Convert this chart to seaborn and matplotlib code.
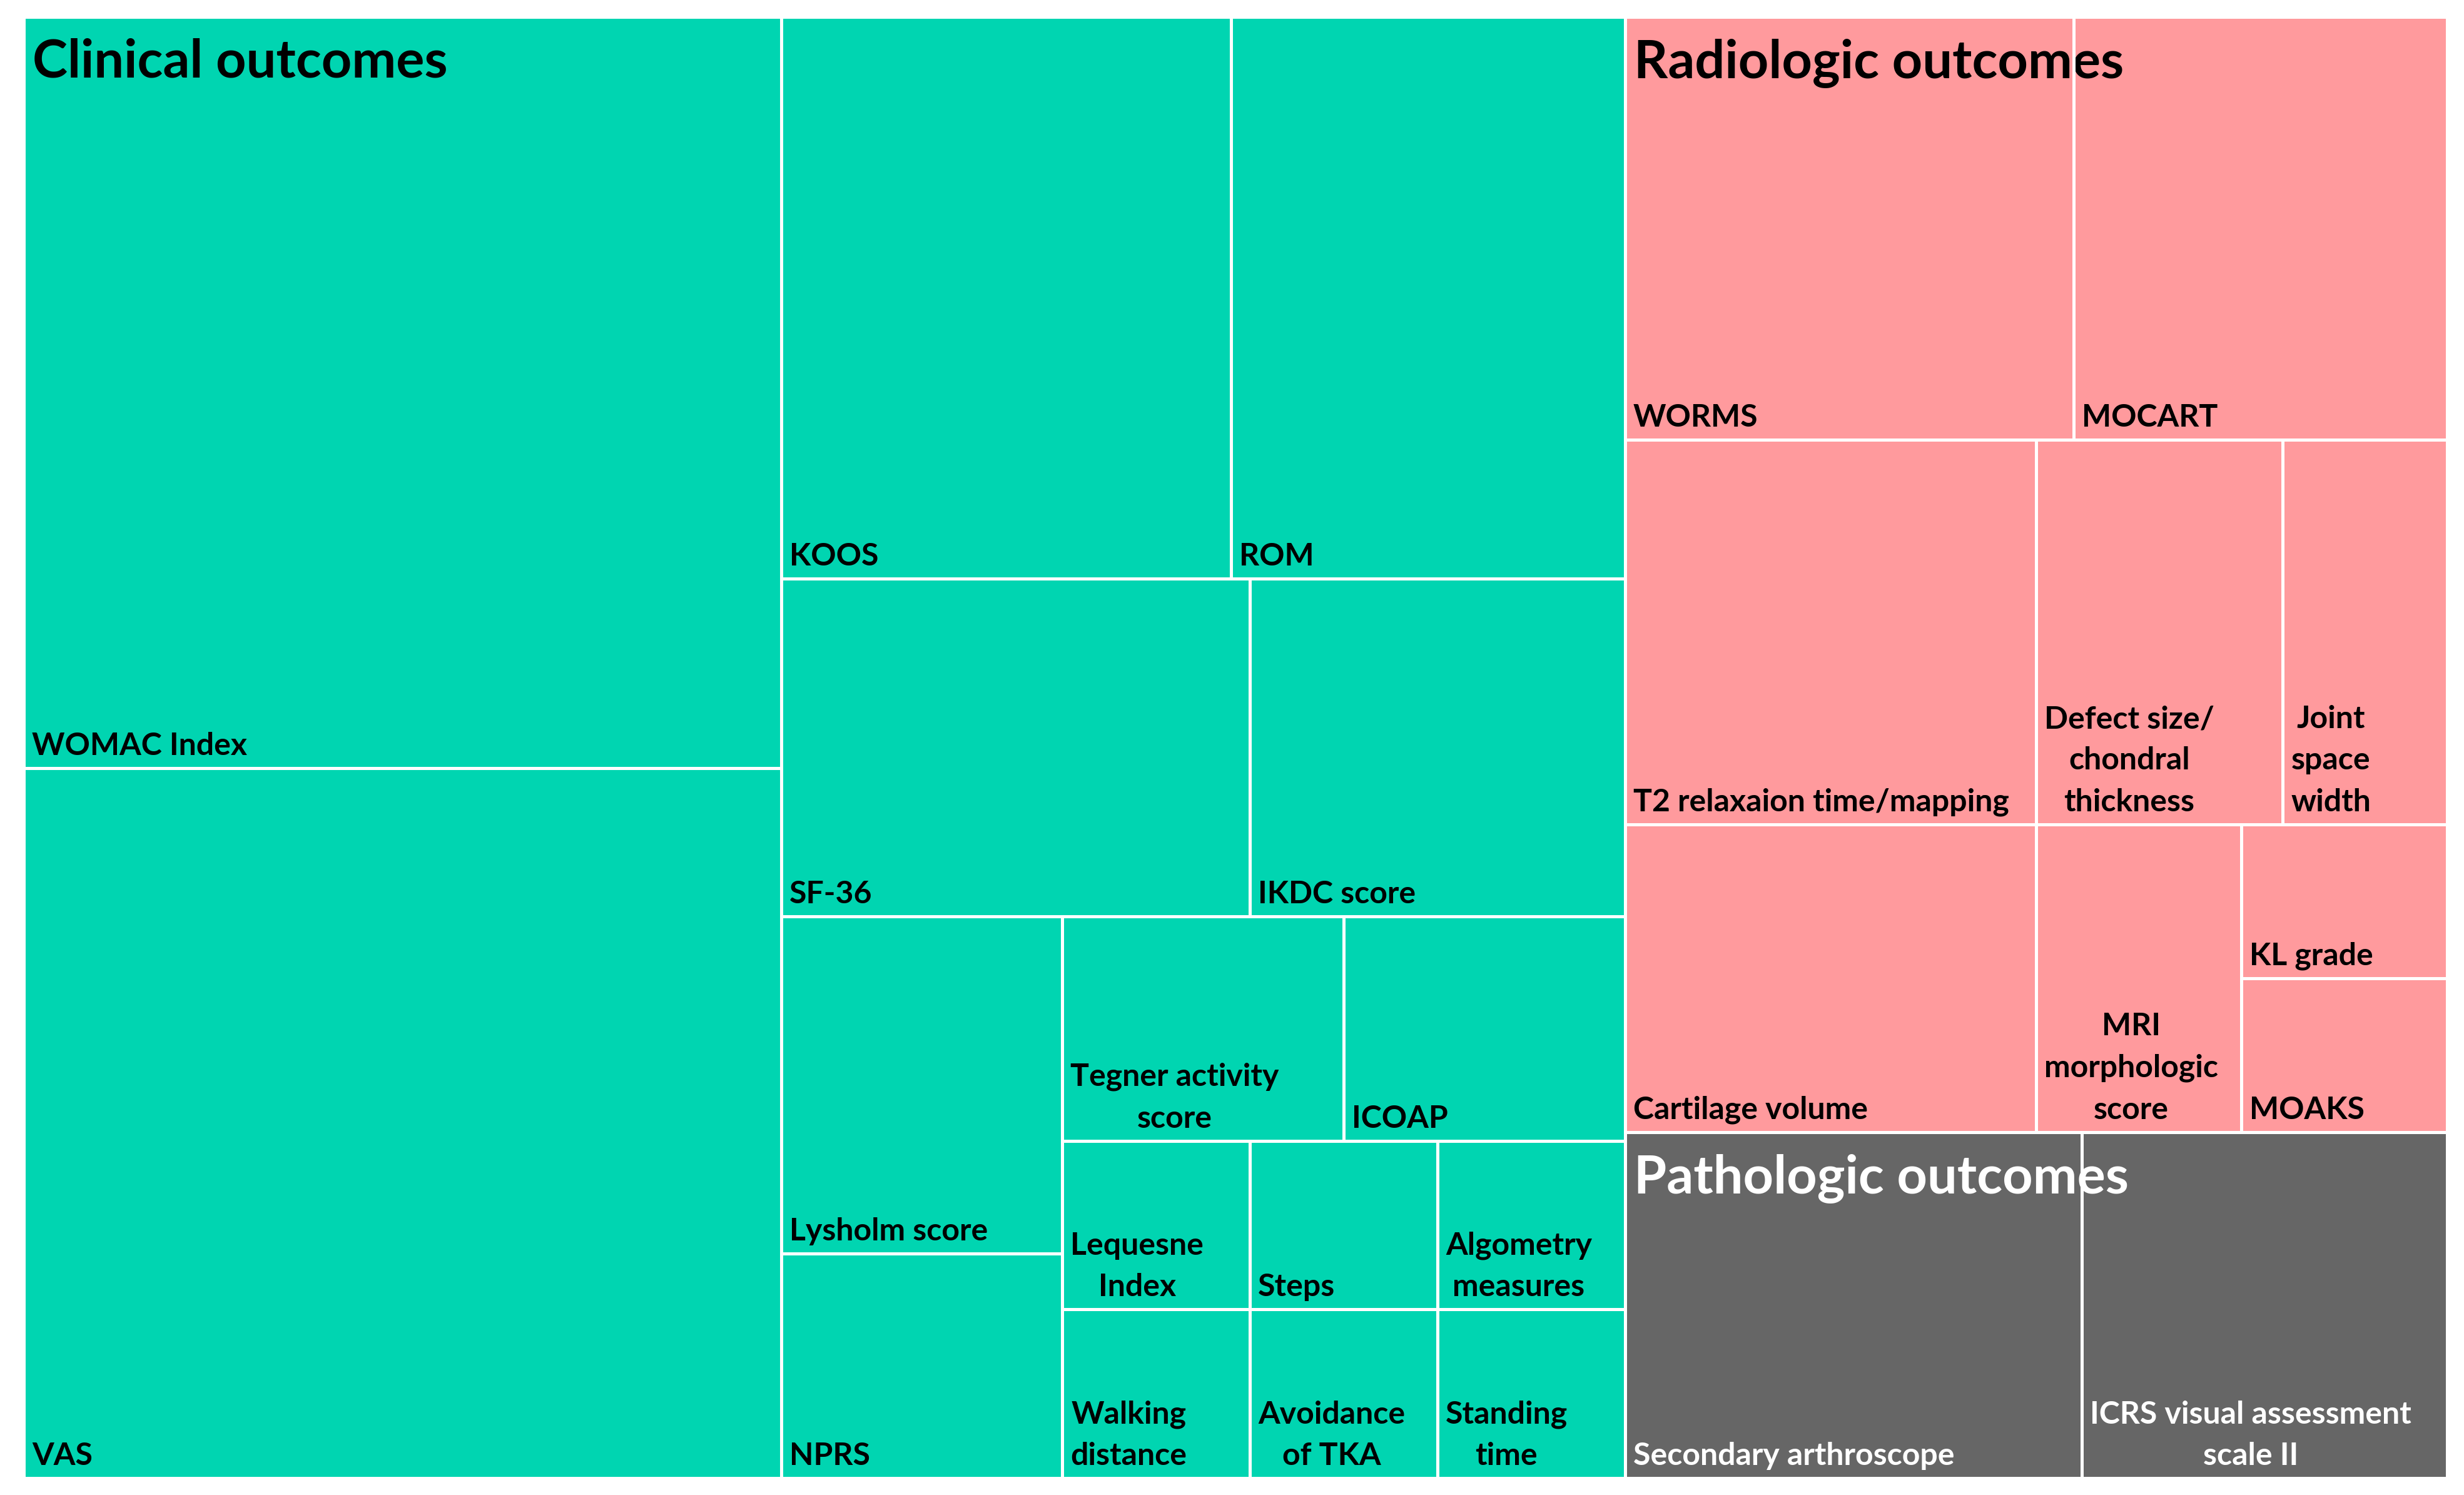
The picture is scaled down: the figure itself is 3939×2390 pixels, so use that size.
import matplotlib
matplotlib.use("Agg")
import matplotlib.pyplot as plt
from matplotlib.patches import Rectangle
import seaborn as sns

# number of studies reporting each outcome measure
group_names = ["Clinical outcomes", "Radiologic outcomes", "Pathologic outcomes"]

clinical_labels = ["WOMAC Index", "VAS", "KOOS", "ROM", "SF-36", "IKDC score",
                   "Lysholm score", "NPRS", "Tegner activity\nscore", "ICOAP",
                   "Lequesne\nIndex", "Walking\ndistance", "Steps", "Avoidance\nof TKA",
                   "Algometry\nmeasures", "Standing\ntime"]
clinical_counts = [18, 17, 8, 7, 5, 4, 3, 2, 2, 2, 1, 1, 1, 1, 1, 1]

radiologic_labels = ["WORMS", "MOCART", "T2 relaxaion time/mapping", "Cartilage volume",
                     "Defect size/\nchondral\nthickness", "Joint\nspace\nwidth",
                     "MRI\nmorphologic\nscore", "KL grade", "MOAKS"]
radiologic_counts = [6, 5, 5, 4, 3, 2, 2, 1, 1]

pathologic_labels = ["Secondary arthroscope", "ICRS visual assessment\nscale II"]
pathologic_counts = [5, 4]

group_colors = ["#00D5B1", "#FF9A9D", "#666666"]
text_colors = ["black", "black", "white"]


def squarify(values, x0, y0, x1, y1, ratio=1.2):
    # squarified treemap (d3 style), y axis points down
    rects = []
    total = float(sum(values))
    i0, n = 0, len(values)
    while i0 < n:
        dx, dy = x1 - x0, y1 - y0
        s = values[i0]
        vmin = vmax = s
        alpha = max(dy / dx, dx / dy) / (total * ratio)
        beta = s * s * alpha
        best = max(vmax / beta, beta / vmin)
        i1 = i0 + 1
        while i1 < n:
            v = values[i1]
            beta = (s + v) ** 2 * alpha
            r = max(max(vmax, v) / beta, beta / min(vmin, v))
            if r > best:
                break
            s += v
            best = r
            vmin, vmax = min(vmin, v), max(vmax, v)
            i1 += 1
        row = values[i0:i1]
        if dx < dy * 1.01:
            h = dy * s / total
            x = x0
            for v in row:
                w = dx * v / s
                rects.append((x, y0, w, h))
                x += w
            y0 += h
        else:
            w = dx * s / total
            y = y0
            for v in row:
                h = dy * v / s
                rects.append((x0, y, w, h))
                y += h
            x0 += w
        total -= s
        i0 = i1
    return rects


sns.set_theme(style="white")
plt.rcParams["font.family"] = ["Lato", "DejaVu Sans"]

fig = plt.figure(figsize=(3939 / 300, 2390 / 300), dpi=300)
left, top, right, bottom = 38, 27, 3912, 2363
ax = fig.add_axes([left / 3939, 1 - bottom / 2390, (right - left) / 3939, (bottom - top) / 2390])
W, H = right - left, bottom - top
ax.set_xlim(0, W)
ax.set_ylim(H, 0)
ax.axis("off")

groups = [(clinical_labels, clinical_counts),
          (radiologic_labels, radiologic_counts),
          (pathologic_labels, pathologic_counts)]
group_rects = squarify([sum(c) for _, c in groups], 0, 0, W, H)

for gi, ((labels, counts), (gx, gy, gw, gh)) in enumerate(zip(groups, group_rects)):
    leaves = squarify(counts, gx, gy, gx + gw, gy + gh)
    for (x, y, w, h) in leaves:
        ax.add_patch(Rectangle((x, y), w, h, facecolor=group_colors[gi], edgecolor="none", zorder=1))
    ax.annotate(group_names[gi], xy=(gx, gy), xytext=(14, -34), textcoords="offset pixels",
                ha="left", va="top", fontsize=20.3, fontweight="bold",
                color=text_colors[gi], zorder=2)
    for label, (x, y, w, h) in zip(labels, leaves):
        ax.add_patch(Rectangle((x, y), w, h, fill=False, edgecolor="white", lw=1.2, zorder=3))
        ax.annotate(label, xy=(x, y + h), xytext=(13, 13), textcoords="offset pixels",
                    ha="left", va="bottom", multialignment="center", linespacing=1.58,
                    fontsize=12, fontweight="bold", color=text_colors[gi], zorder=4)

fig.savefig("out.png", dpi=300, facecolor="white")
